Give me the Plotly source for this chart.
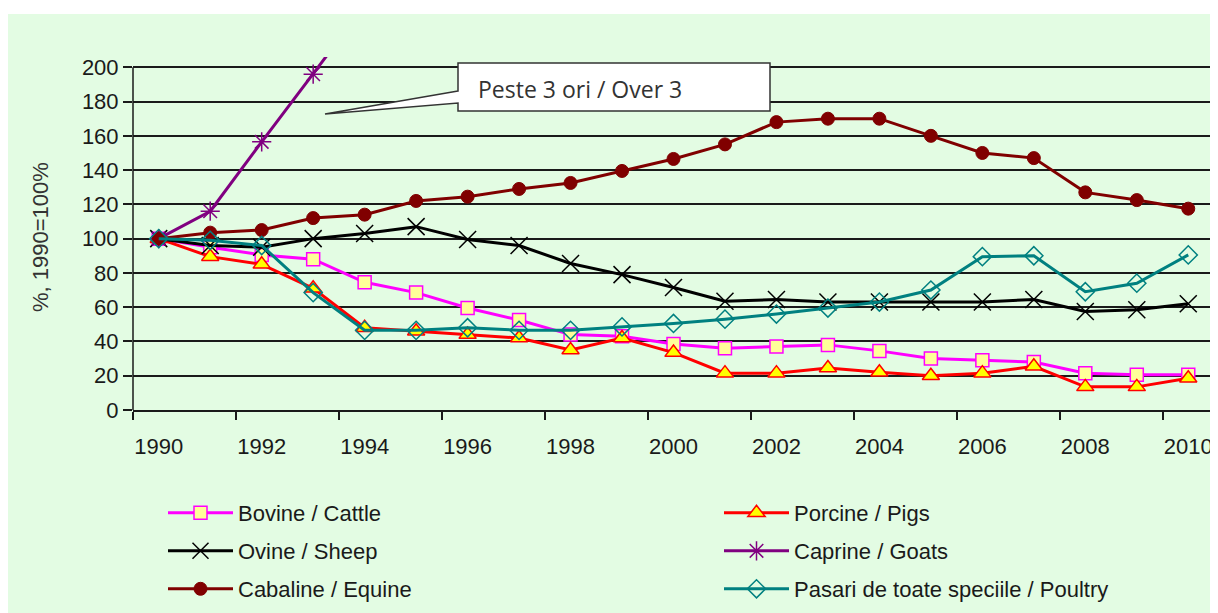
import plotly.graph_objects as go

# ani / years
ani = list(range(1990, 2011))

# %, 1990 = 100%
bovine = [100, 95, 90.5, 88, 74.5, 68.5, 59.5, 52.5, 44, 43, 38.5, 36, 37, 38, 34.5, 30, 29, 28, 21.5, 20.5, 20.5]
porcine = [100, 89.5, 85, 71, 48, 46, 44, 42, 35, 42, 33.5, 21.5, 21.5, 24.5, 22, 20, 21.5, 25.5, 13.5, 13.5, 18.5]
ovine = [100, 96, 95, 100, 103, 107, 99.5, 96, 85.5, 79, 71.5, 63.5, 64.5, 63, 63, 63, 63, 64.5, 57.5, 58.5, 62]
caprine = [100, 116, 156.5, 196, 236] + [None] * 16
cabaline = [100, 103.5, 105, 112, 114, 122, 124.5, 129, 132.5, 139.5, 146.5, 155, 168, 170, 170, 160, 150, 147, 127, 122.5, 117.5]
pasari = [100, 99, 96, 68.5, 46.5, 46.5, 48, 46.5, 46.5, 48.5, 50.5, 53, 56, 59.5, 63, 70, 89.5, 90, 69, 74, 90.5]

tick_ani = list(range(1990, 2011, 2))
tick_y = list(range(0, 201, 20))

BG = "#e3fce3"
FONT = "Liberation Sans, Arial, sans-serif"

# pagina are margine de 8px, deci figura e mai mica
OFF = 8
W, H = 1218 - OFF, 613 - OFF
L, R, T, B = 133 - OFF, 1214 - OFF, 57 - OFF, 410 - OFF


def xp(px):
    return (px - OFF - L) / (R - L)


def yp(py):
    return (B - (py - OFF)) / (B - T)


def xc(px):
    return (px - OFF) / W


def yc(py):
    return 1 - (py - OFF) / H


serii = [
    ("Bovine / Cattle", bovine, "#ff00ff", dict(symbol="square", size=13, color="#ffff99",
                                                line=dict(color="#ff00ff", width=1.5)), (163, 513)),
    ("Porcine / Pigs", porcine, "#ff0000", dict(symbol="triangle-up", size=15, color="#ffff00",
                                               line=dict(color="#ff0000", width=1.5)), (719, 513)),
    ("Ovine / Sheep", ovine, "#000000", dict(symbol="x-thin", size=17,
                                            line=dict(color="#000000", width=1.5)), (163, 551)),
    ("Caprine / Goats", caprine, "#800080", dict(symbol="asterisk", size=16,
                                                line=dict(color="#800080", width=1.5)), (719, 551)),
    ("Cabaline / Equine", cabaline, "#800000", dict(symbol="circle", size=13, color="#800000",
                                                   line=dict(color="#800000", width=1)), (163, 589)),
    ("Pasari de toate speciile / Poultry", pasari, "#008080", dict(symbol="diamond-open", size=14,
                                                                  color="#008080",
                                                                  line=dict(color="#008080", width=1.5)), (719, 589)),
]

fig = go.Figure()
legende = {}

for i, (nume, valori, culoare, marker, poz) in enumerate(serii):
    leg = "legend" if i == 0 else f"legend{i + 1}"
    fig.add_trace(go.Scatter(
        x=ani, y=valori, name=nume, mode="lines+markers",
        line=dict(color=culoare, width=3),
        marker=marker, legend=leg, connectgaps=False,
    ))
    legende[leg] = dict(
        xref="container", yref="container", x=xc(poz[0]), y=yc(poz[1]),
        xanchor="left", yanchor="middle", orientation="h",
        bgcolor="rgba(0,0,0,0)", itemwidth=65,
        font=dict(family=FONT, size=22, color="#1a1a1a"),
    )

fig.update_layout(
    width=W, height=H, autosize=False,
    margin=dict(l=L, r=W - R, t=T, b=H - B),
    paper_bgcolor="white", plot_bgcolor=BG,
    font=dict(family=FONT, size=22, color="#1a1a1a"),
    showlegend=True,
    xaxis=dict(
        range=[1989.5, 2010.5], tickvals=tick_ani, ticks="", showgrid=False, zeroline=False,
        showline=True, linecolor="#1a1a1a", linewidth=1.5, ticklabelstandoff=16,
        tickfont=dict(size=22),
        minor=dict(tick0=1989.5, dtick=2, ticks="outside", ticklen=8, tickwidth=1.5,
                   tickcolor="#1a1a1a", showgrid=False),
    ),
    yaxis=dict(
        range=[0, 206], tickvals=tick_y, ticks="outside", ticklen=9, tickwidth=1.5,
        tickcolor="#1a1a1a", showgrid=True, gridcolor="#1a1a1a", gridwidth=1.5,
        zeroline=False, showline=False, tickfont=dict(size=22),
    ),
    shapes=[
        # fundal verde
        dict(type="rect", xref="paper", yref="paper", x0=xp(8), x1=xp(1218), y0=yp(14), y1=yp(613),
             fillcolor=BG, line=dict(width=0), layer="below"),
        # axa y pana la 200
        dict(type="line", xref="paper", yref="y", x0=0, x1=0, y0=0, y1=200,
             line=dict(color="#1a1a1a", width=1.5)),
        # caseta explicativa
        dict(type="path", xref="paper", yref="paper",
             path=(f"M{xp(458)},{yp(91)} L{xp(325)},{yp(114)} L{xp(458)},{yp(103)} "
                   f"L{xp(458)},{yp(111)} L{xp(770)},{yp(111)} L{xp(770)},{yp(63)} "
                   f"L{xp(458)},{yp(63)} Z"),
             fillcolor="white", line=dict(color="#333333", width=1.5), layer="above"),
    ],
    annotations=[
        dict(text="Peste 3 ori / Over 3", xref="paper", yref="paper", x=xp(476), y=yp(89),
             xanchor="left", yanchor="middle", showarrow=False,
             font=dict(family="Open Sans, sans-serif", size=23, color="#333333")),
        dict(text="%, 1990=100%", xref="paper", yref="paper", x=xp(40), y=yp(237),
             xanchor="center", yanchor="middle", showarrow=False, textangle=-90,
             font=dict(family=FONT, size=22, color="#333333")),
    ],
    **legende,
)

fig.write_html("out.html")
